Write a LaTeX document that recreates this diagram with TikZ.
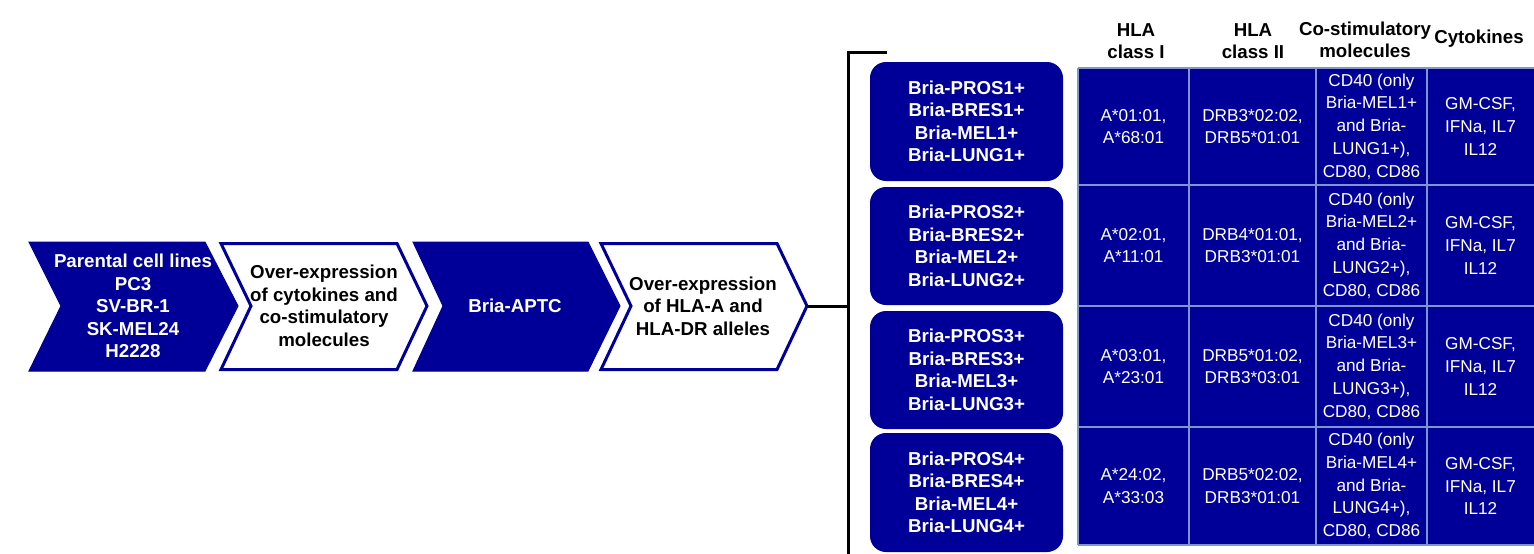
\documentclass[tikz,border=0pt]{standalone}
\usepackage{fontspec}
\setmainfont{Liberation Sans}
\definecolor{navy}{RGB}{0,0,153}
\definecolor{gridc}{RGB}{125,150,205}
\tikzset{
  bluechev/.style={fill=navy, draw=navy, line width=1pt, line join=miter},
  whitechev/.style={fill=white, draw=navy, line width=3pt, line join=miter},
  wtext/.style={font=\fontsize{18.7}{22.5}\selectfont\bfseries, text=white, align=center, inner sep=0pt},
  ktext/.style={font=\fontsize{18.7}{22.5}\selectfont\bfseries, text=black, align=center, inner sep=0pt},
  rbox/.style={fill=navy, rounded corners=16pt, minimum width=193pt, text=white,
    font=\fontsize{18.7}{22.5}\selectfont\bfseries, align=center, inner sep=0pt},
  celltext/.style={font=\fontsize{17.2}{22.7}\selectfont, text=white, align=center, inner sep=0pt},
  head/.style={font=\fontsize{18.7}{22.5}\selectfont\bfseries, text=black, align=center, inner sep=0pt},
  blackline/.style={draw=black, line width=3pt},
  gridline/.style={draw=gridc, line width=1.5pt}
}
\begin{document}
\begin{tikzpicture}[x=1pt,y=-1pt]
\useasboundingbox (0,0) rectangle (1534,554);
% chevrons
\draw[bluechev] (29,242) -- (205,242) -- (238,306) -- (205,371) -- (29,371) -- (61,306) -- cycle;
\draw[whitechev] (221,243.5) -- (397,243.5) -- (427,306) -- (397,369.5) -- (221,369.5) -- (251,306) -- cycle;
\draw[bluechev] (413,242) -- (588,242) -- (620,306) -- (588,371) -- (413,371) -- (443,306) -- cycle;
\draw[whitechev] (601,243.5) -- (777,243.5) -- (807,306) -- (777,369.5) -- (601,369.5) -- (631,306) -- cycle;
\node[wtext] (c1) at (133,306) {Parental cell lines\\PC3\\SV-BR-1\\SK-MEL24\\H2228};
\node[ktext] (c2) at (324,306) {Over-expression\\of cytokines and\\co-stimulatory\\molecules};
\node[wtext] (c3) at (515,306) {Bria-APTC};
\node[ktext] (c4) at (703,306) {Over-expression\\of HLA-A and\\HLA-DR alleles};
% connector and bracket
\coordinate (tip4) at (808,306);
\coordinate (br) at (848,306);
\coordinate (brtop) at (848,52);
\coordinate (brtopend) at (887,52);
\coordinate (brbot) at (848,556);
\draw[blackline] (tip4) -- (br);
\draw[blackline, line join=miter] (brtopend) -- (brtop) -- (brbot);
% rounded boxes
\node[rbox, minimum height=119pt] (b1) at (966.5,121.5) {Bria-PROS1+\\Bria-BRES1+\\Bria-MEL1+\\Bria-LUNG1+};
\node[rbox, minimum height=118pt] (b2) at (966.5,246) {Bria-PROS2+\\Bria-BRES2+\\Bria-MEL2+\\Bria-LUNG2+};
\node[rbox, minimum height=118pt] (b3) at (966.5,370) {Bria-PROS3+\\Bria-BRES3+\\Bria-MEL3+\\Bria-LUNG3+};
\node[rbox, minimum height=119pt] (b4) at (966.5,492.5) {Bria-PROS4+\\Bria-BRES4+\\Bria-MEL4+\\Bria-LUNG4+};
% table
\fill[navy] (1078,68) rectangle (1536,545);
\foreach \yy in {68,185,306,427,545} { \draw[gridline] (1078,\yy) -- (1536,\yy); }
\foreach \xx in {1078,1189,1316,1427} { \draw[gridline] (\xx,68) -- (\xx,545); }
% headers
\node[head] (h1) at (1136,41) {HLA\\class I};
\node[head] (h2) at (1253,41) {HLA\\class II};
\node[head] (h3) at (1365,40) {Co-stimulatory\\molecules};
\node[head] (h4) at (1479,39) {Cytokines};
% cells
\foreach \r/\yy/\ha/\hb in {1/126.5/{A*01:01,\\A*68:01}/{DRB3*02:02,\\DRB5*01:01},
                            2/245.5/{A*02:01,\\A*11:01}/{DRB4*01:01,\\DRB3*01:01},
                            3/366.5/{A*03:01,\\A*23:01}/{DRB5*01:02,\\DRB3*03:01},
                            4/486/{A*24:02,\\A*33:03}/{DRB5*02:02,\\DRB3*01:01}} {
  \node[celltext] (t\r a) at (1133.5,\yy) {\ha};
  \node[celltext] (t\r b) at (1252.5,\yy) {\hb};
  \node[celltext] (t\r c) at (1371.5,\yy) {CD40 (only\\Bria-MEL\r+\\and Bria-\\LUNG\r+),\\CD80, CD86};
  \node[celltext] (t\r d) at (1480.5,\yy) {GM-CSF,\\IFNa, IL7\\IL12};
}
\end{tikzpicture}
\end{document}
